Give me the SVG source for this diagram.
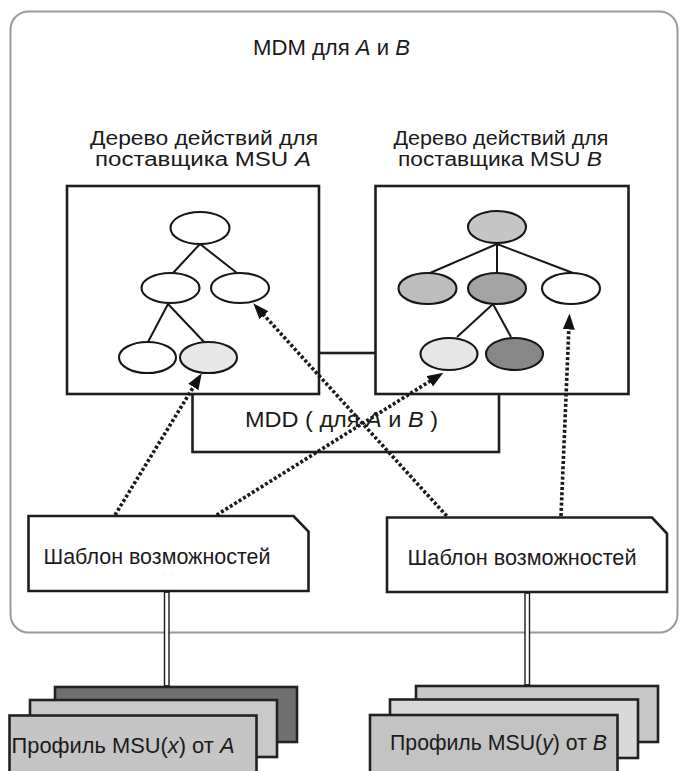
<svg xmlns="http://www.w3.org/2000/svg" width="681" height="771" viewBox="0 0 681 771">
<style>
text{font-family:"Liberation Sans",Arial,sans-serif;fill:#1a1a1a;font-size:21.5px}
.lbl{font-size:19.5px}
.box{fill:#fff;stroke:#1e1e1e;stroke-width:2.6}
.el{stroke:#161616;stroke-width:2.1}
.edge{stroke:#161616;stroke-width:2;fill:none}
.dot{stroke:#1a1a1a;stroke-width:3.6;stroke-dasharray:3 2.2;fill:none;marker-end:url(#ah)}
.prof{stroke:#222;stroke-width:2.6}
.dbl{fill:#fff;stroke:#1a1a1a;stroke-width:1.4}
</style>
<defs>
<marker id="ah" viewBox="0 0 16 12" refX="2" refY="6" markerWidth="16" markerHeight="12" markerUnits="userSpaceOnUse" orient="auto">
<path d="M0,0 L16,6 L0,12 z" fill="#111"/>
</marker>
</defs>
<rect width="681" height="771" fill="#fff"/>
<g id="mdm">
<rect x="10.5" y="11.5" width="667" height="621" rx="18" fill="#fff" stroke="#9a9a9a" stroke-width="2"/>
<text x="253" y="55" textLength="157" lengthAdjust="spacingAndGlyphs">MDM  для <tspan font-style="italic">A</tspan> и <tspan font-style="italic">B</tspan></text>
</g>
<g id="mdd">
<rect class="box" x="192.5" y="353" width="306.5" height="99"/>
<text x="245" y="427" textLength="193" lengthAdjust="spacingAndGlyphs">MDD ( для  <tspan font-style="italic">A</tspan> и <tspan font-style="italic">B</tspan> )</text>
</g>
<g id="treeA">
<text class="lbl" x="90" y="144.5" textLength="228" lengthAdjust="spacingAndGlyphs">Дерево действий для</text>
<text class="lbl" x="95" y="165.5" textLength="216" lengthAdjust="spacingAndGlyphs">поставщика MSU <tspan font-style="italic">A</tspan></text>
<rect class="box" x="67" y="186" width="252" height="208"/>
<path class="edge" d="M200,244 L173,273 M200,244 L237,273 M168,304 L148,342 M168,304 L205,343"/>
<ellipse class="el" cx="200" cy="228" rx="29.5" ry="16" fill="#fff"/>
<ellipse class="el" cx="170.5" cy="288" rx="29" ry="15" fill="#fff"/>
<ellipse class="el" cx="240" cy="288" rx="29" ry="15" fill="#fff"/>
<ellipse class="el" cx="147.5" cy="357.5" rx="28.5" ry="15.5" fill="#fff"/>
<ellipse class="el" cx="208.5" cy="357.5" rx="28.5" ry="15.5" fill="#e8e8e8"/>
</g>
<g id="treeB">
<text class="lbl" x="393.5" y="144.5" textLength="215" lengthAdjust="spacingAndGlyphs">Дерево действий для</text>
<text class="lbl" x="398" y="165.5" textLength="204" lengthAdjust="spacingAndGlyphs">поставщика MSU <tspan font-style="italic">B</tspan></text>
<rect class="box" x="375.5" y="186" width="253" height="208"/>
<path class="edge" d="M497,244 L430,273 M497,244 L497,273 M497,244 L573,273 M493,304 L457,337 M493,304 L511,337"/>
<ellipse class="el" cx="497" cy="227" rx="29" ry="16" fill="#c6c6c6"/>
<ellipse class="el" cx="427.5" cy="288.5" rx="29" ry="15.5" fill="#bdbdbd"/>
<ellipse class="el" cx="497" cy="288.5" rx="29" ry="15.5" fill="#a3a3a3"/>
<ellipse class="el" cx="571" cy="288.5" rx="29" ry="15.5" fill="#fff"/>
<ellipse class="el" cx="449" cy="354" rx="28.5" ry="16" fill="#e6e6e6"/>
<ellipse class="el" cx="514.5" cy="354" rx="28.5" ry="16" fill="#878787"/>
</g>
<g id="templateA">
<path class="box" d="M28.5,516 L293.5,516 L308.5,531.5 L308.5,591 L28.5,591 Z"/>
<text x="43.5" y="563.5" textLength="227" lengthAdjust="spacingAndGlyphs">Шаблон возможностей</text>
</g>
<g id="templateB">
<path class="box" d="M387,517.5 L652,517.5 L667,533.5 L667,592 L387,592 Z"/>
<text x="407.5" y="565" textLength="229" lengthAdjust="spacingAndGlyphs">Шаблон возможностей</text>
</g>
<g id="profileA">
<rect class="prof" x="55" y="687" width="242" height="55" fill="#707070"/>
<rect class="prof" x="30" y="700" width="247" height="57" fill="#c9c9c9"/>
<rect class="prof" x="9.5" y="715.5" width="247" height="62" fill="#c5c5c5"/>
<text x="11.5" y="753" font-size="23" textLength="223" lengthAdjust="spacingAndGlyphs">Профиль MSU(<tspan font-style="italic">x</tspan>) от <tspan font-style="italic">A</tspan></text>
</g>
<g id="profileB">
<rect class="prof" x="416" y="686" width="242" height="56" fill="#c8c8c8"/>
<rect class="prof" x="390" y="699.5" width="248" height="58.5" fill="#d9d9d9"/>
<rect class="prof" x="370" y="715" width="247.5" height="62" fill="#c3c3c3"/>
<text x="390" y="750" font-size="23" textLength="217" lengthAdjust="spacingAndGlyphs">Профиль MSU(<tspan font-style="italic">y</tspan>) от <tspan font-style="italic">B</tspan></text>
</g>
<g id="connectors">
<rect class="dbl" x="164.5" y="592.2" width="4.5" height="93.6"/>
<rect class="dbl" x="525" y="593.2" width="4.5" height="91.6"/>
<line class="dot" x1="115" y1="515" x2="194.4" y2="385.3"/>
<line class="dot" x1="216.7" y1="515" x2="431.5" y2="380.2"/>
<line class="dot" x1="446.7" y1="516" x2="262.7" y2="313.7"/>
<line class="dot" x1="561" y1="516" x2="568.9" y2="327.5"/>
</g>
</svg>
